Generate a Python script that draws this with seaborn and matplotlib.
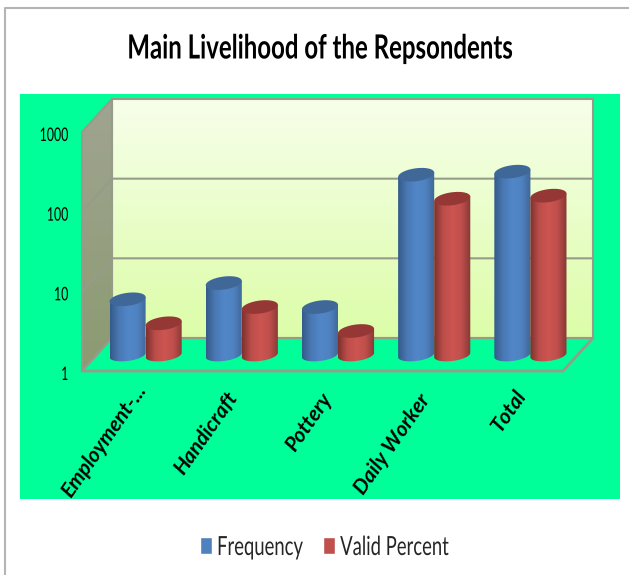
import numpy as np
import pandas as pd
import seaborn as sns
import matplotlib
matplotlib.use("Agg")
import matplotlib.pyplot as plt
from matplotlib.colors import LinearSegmentedColormap
from matplotlib.patches import Patch, Polygon
from matplotlib.patheffects import AbstractPathEffect
from matplotlib.transforms import Affine2D, ScaledTranslation

categories = ["Employment-...", "Handicraft", "Pottery", "Daily Worker", "Total"]
frequency = [5, 8, 4, 183, 200]
valid_percent = [2.5, 4, 2, 91.5, 100]
y_ticks = [1, 10, 100, 1000]

W, H = 629, 575
GREEN = "#00FF99"
EDGE = "#979C8A"

sns.set_theme(style="white")
plt.rcParams["font.family"] = ["Lato", "DejaVu Sans"]


class Squeeze(AbstractPathEffect):
    """Narrow a text sideways around one x pixel, the font here is wider than the original."""

    def __init__(self, sx, cx):
        super().__init__()
        self.sx = sx
        self.cx = cx

    def draw_path(self, renderer, gc, tpath, affine, rgbFace=None):
        squeeze = Affine2D().translate(-self.cx, 0).scale(self.sx, 1).translate(self.cx, 0)
        renderer.draw_path(gc, tpath, affine + squeeze, rgbFace)


df = pd.DataFrame({
    "category": categories * 2,
    "value": frequency + valid_percent,
    "series": ["Frequency"] * 5 + ["Valid Percent"] * 5,
})

fig = plt.figure(figsize=(W / 100, H / 100), dpi=100, facecolor="white")


def pixel_axes(z):
    a = fig.add_axes([0, 0, 1, 1], zorder=z)
    a.set_xlim(0, W)
    a.set_ylim(H, 0)
    a.axis("off")
    return a


bg = pixel_axes(0)
top = pixel_axes(2)

ax = fig.add_axes([82 / W, (H - 371) / H, 481 / W, 239 / H], zorder=1)
ax.patch.set_alpha(0)
sns.barplot(data=df, x="category", y="value", hue="series", width=0.75, gap=0,
            log_scale=True, palette=["#4F81BD", "#C0504D"], legend=False, ax=ax)
ax.set_xlim(-0.5, 4.5)
ax.set_ylim(1, 1000)
ax.set_xlabel("")
ax.set_ylabel("")
sns.despine(ax=ax, left=True, bottom=True)
ax.minorticks_off()
ax.set_yticks(y_ticks, [str(t) for t in y_ticks])
ax.tick_params(axis="y", length=0, pad=10)
ax.tick_params(axis="x", length=0, pad=11)

for lab in ax.get_yticklabels():
    lab.set_fontsize(13.5)
    lab.set_color("black")
    lab.set_transform(lab.get_transform() + ScaledTranslation(0, -2 / 100, fig.dpi_scale_trans))
    lab.set_path_effects([Squeeze(0.66, 69)])

# the original labels do not sit evenly, nudge each one (pixels)
label_nudge = [(12, 0), (7, -8), (5, -9), (7, -10), (7, -6)]
for lab, (nx, ny) in zip(ax.get_xticklabels(), label_nudge):
    lab.set_rotation(55)
    lab.set_rotation_mode("anchor")
    lab.set_ha("right")
    lab.set_va("center")
    lab.set_fontsize(15)
    lab.set_fontweight("bold")
    lab.set_fontstyle("italic")
    lab.set_color("black")
    lab.set_transform(lab.get_transform() + ScaledTranslation(nx / 100, ny / 100, fig.dpi_scale_trans))


def gradient(a, colors, box, clip, vertical=False, z=1):
    cmap = LinearSegmentedColormap.from_list("g", colors)
    g = np.linspace(0, 1, 128)
    g = g.reshape(-1, 1) if vertical else g.reshape(1, -1)
    im = a.imshow(g, cmap=cmap, extent=box, aspect="auto", origin="upper",
                  interpolation="bilinear", zorder=z)
    im.set_clip_path(clip)
    return im


def to_px(x, y):
    px, py = ax.transData.transform((x, y))
    return px * 100 / fig.dpi, H - py * 100 / fig.dpi


# chart background and 3d box
bg.add_patch(plt.Rectangle((20, 94), 600, 405, fc=GREEN, ec="none", zorder=0))
bg.plot([5, 5, W], [H, 8, 8], color="#B4B4B4", lw=1.5, zorder=0)

DX, DY = 30, 33
x0, x1 = to_px(-0.5, 1)[0], to_px(4.5, 1)[0]
y_floor = to_px(0, 1)[1]
y_roof = to_px(0, 1000)[1]

back = Polygon([(x0 + DX, y_roof - DY), (x1 + DX, y_roof - DY), (x1 + DX, y_floor - DY), (x0 + DX, y_floor - DY)],
               fc="none", ec=EDGE, lw=1.5, zorder=3)
bg.add_patch(back)
gradient(bg, ["#F7FFEA", "#DCFDA8"], (x0 + DX, x1 + DX, y_floor - DY, y_roof - DY), back, vertical=True)

side = Polygon([(x0, y_roof), (x0 + DX, y_roof - DY), (x0 + DX, y_floor - DY), (x0, y_floor)],
               fc="none", ec=EDGE, lw=1.5, zorder=3)
bg.add_patch(side)
gradient(bg, ["#A0A491", "#8B9B71"], (x0, x0 + DX, y_floor, y_roof - DY), side, vertical=True)

bg.plot([x0, x1, x1 + DX], [y_floor, y_floor, y_floor - DY], color=EDGE, lw=2, zorder=3)
for t in y_ticks[:-1]:
    yy = to_px(0, t)[1]
    bg.plot([x0, x0 + DX, x1 + DX], [yy, yy - DY, yy - DY], color=EDGE, lw=1.5, zorder=3)

# cylinders, built from the bars seaborn placed
SHIFT_X, SHIFT_Y = 15.5, 16
looks = [
    (["#355A8A", "#4A79B4", "#5187C8", "#4F82C0", "#3F6597"], "#3F6899"),
    (["#7E302E", "#BC4E4A", "#CC5551", "#BF4F4B", "#853735"], "#953835"),
]
theta = np.linspace(0, np.pi, 40)
for cont, (cols, lid) in zip(ax.containers, looks):
    for p in cont.patches:
        left = to_px(p.get_x(), 1)[0] + SHIFT_X
        right = to_px(p.get_x() + p.get_width(), 1)[0] + SHIFT_X
        y_base = to_px(0, 1)[1] - SHIFT_Y
        y_top = to_px(0, p.get_y() + p.get_height())[1] - SHIFT_Y
        cx = (left + right) / 2
        a_r = (right - left) / 2
        xs = cx + a_r * np.cos(theta)
        tilt = -0.12 * (xs - cx)
        lower = np.column_stack([xs, y_base + 6 * np.sin(theta) + tilt])
        upper = np.column_stack([xs, y_top - 6.5 * np.sin(theta) + tilt])
        body = Polygon(np.vstack([[xs[0], y_top + tilt[0]], lower, [xs[-1], y_top + tilt[-1]]]),
                       fc="none", ec="none", zorder=5)
        top.add_patch(body)
        gradient(top, cols, (left, right, y_base + 12, y_top - 12), body, z=5)
        rim = np.vstack([upper, np.column_stack([xs[::-1], y_top + 6.5 * np.sin(theta[::-1]) + tilt[::-1]])])
        top.add_patch(Polygon(rim, fc=lid, ec="none", zorder=5))
        p.set_visible(False)
top.set_xlim(0, W)
top.set_ylim(H, 0)
bg.set_xlim(0, W)
bg.set_ylim(H, 0)

fig.text(320 / W, 1 - 49 / H, "Main Livelihood of the Repsondents", ha="center", va="center",
         fontsize=24, fontweight="bold", color="black", family=["Lato", "DejaVu Sans"],
         path_effects=[Squeeze(0.72, 320)])

handles = [Patch(fc="#4F81BD", label="Frequency"), Patch(fc="#C0504D", label="Valid Percent")]
leg = fig.legend(handles=handles, loc="lower left", bbox_to_anchor=(200 / W, 1 - 560 / H), ncol=2, frameon=False,
                 borderpad=0, borderaxespad=0, handlelength=0.455, handleheight=0.6, handletextpad=0.19,
                 columnspacing=-0.64, prop={"family": ["Lato", "DejaVu Sans"], "size": 19})

# narrow the legend texts around their left edges
fig.canvas.draw()
for txt in leg.get_texts():
    txt.set_path_effects([Squeeze(0.70, txt.get_window_extent().x0)])

fig.savefig("out.png", dpi=100)
